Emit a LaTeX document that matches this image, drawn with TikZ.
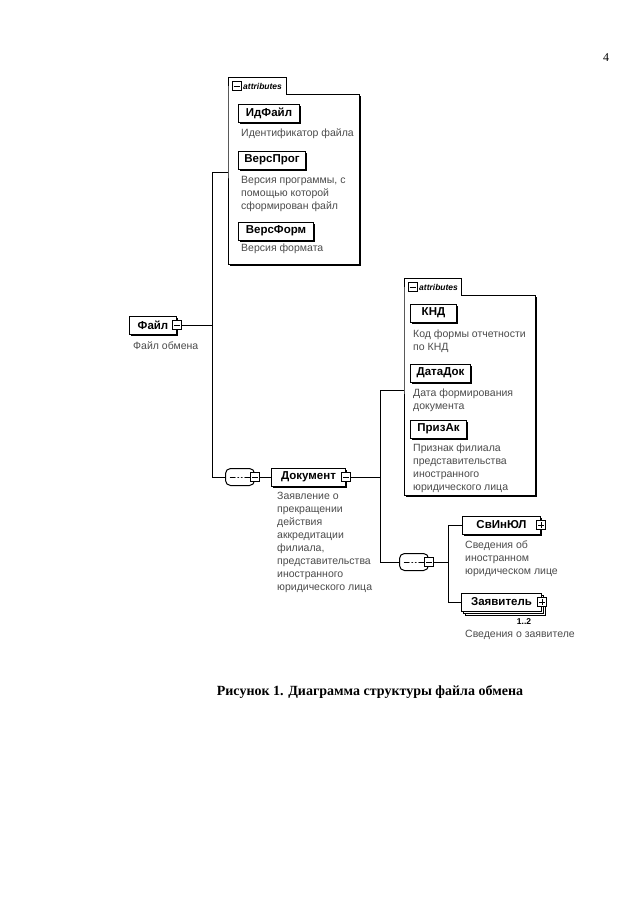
\documentclass[tikz,border=0pt]{standalone}
\usepackage{fontspec}
\setmainfont{Liberation Serif}
\setsansfont{Liberation Sans}
\usetikzlibrary{shadows,calc}
\tikzset{
  elembase/.style={draw, line width=1pt, fill=white, anchor=west, inner xsep=3pt, inner ysep=0pt,
    minimum height=18pt, font=\sffamily\bfseries\fontsize{11.5}{12}\selectfont},
  elem/.style={elembase, drop shadow={shadow xshift=1.6pt, shadow yshift=-1.6pt, fill=black, opacity=1}},
  multielem/.style={elembase, double copy shadow={shadow xshift=2pt, shadow yshift=-2pt}},
  desc/.style={anchor=north west, align=left, inner sep=0pt, text=black!70,
    font=\sffamily\fontsize{10.5}{13}\selectfont},
  sym/.style={draw, fill=white, line width=0.7pt, minimum size=9pt, inner sep=0pt},
  minussym/.style={sym, path picture={
    \draw[line width=0.7pt] ($(path picture bounding box.west)+(1.5pt,0)$) -- ($(path picture bounding box.east)+(-1.5pt,0)$);}},
  plussym/.style={sym, path picture={
    \draw[line width=0.7pt] ($(path picture bounding box.west)+(1.5pt,0)$) -- ($(path picture bounding box.east)+(-1.5pt,0)$);
    \draw[line width=0.7pt] ($(path picture bounding box.north)+(0,-1.5pt)$) -- ($(path picture bounding box.south)+(0,1.5pt)$);}},
  seqbox/.style={draw, line width=1pt, fill=white, rounded corners=5pt, minimum width=29pt, minimum height=17pt,
    inner sep=0pt, path picture={
    \draw[line width=1pt] ($(path picture bounding box.west)+(4pt,0)$) -- ($(path picture bounding box.east)+(-4pt,0)$);
    \fill ($(path picture bounding box.center)+(-3.5pt,0)$) circle (1.4pt);
    \fill (path picture bounding box.center) circle (1.4pt);
    \fill ($(path picture bounding box.center)+(3.5pt,0)$) circle (1.4pt);}},
  attrbox/.style={anchor=north west, inner sep=0pt, fill=white,
    drop shadow={shadow xshift=1.4pt, shadow yshift=-1.4pt, fill=black, opacity=1}},
  attrtab/.style={anchor=south west, inner sep=0pt, minimum height=16pt},
  tabtext/.style={anchor=west, inner sep=0pt, font=\sffamily\bfseries\itshape\fontsize{8.5}{9}\selectfont},
  frame/.style={line width=0.9pt},
  conn/.style={line width=0.8pt},
  caption/.style={font=\rmfamily\bfseries\fontsize{14}{16}\selectfont},
  pagenum/.style={font=\rmfamily\fontsize{12}{14}\selectfont},
  card/.style={font=\sffamily\bfseries\fontsize{8.5}{9}\selectfont, inner sep=0pt}
}
\begin{document}
\begin{tikzpicture}[x=1pt,y=-1pt]
\useasboundingbox[fill=white] (0,0) rectangle (640,905);

\node[pagenum] (pg) at (606,58) {4};

% ---------- top attributes box ----------
\node[attrbox, minimum width=131pt, minimum height=170pt] (attrA) at (228,94) {};
\node[attrtab, minimum width=58pt] (tabA) at (attrA.north west) {};
\draw[frame] (tabA.south west) -- (tabA.north west) -- (tabA.north east) -- (tabA.south east)
  -- (attrA.north east) -- (attrA.south east) -- (attrA.south west) -- cycle;
\node[minussym] (tabAs) at (236.5,86) {};
\node[tabtext] (tabAt) at (243,86) {attributes};

\node[elem, minimum width=61pt] (idf) at (238,113) {ИдФайл};
\node[desc] (idfd) at (241,129) {Идентификатор файла};
\node[elem, minimum width=67pt] (vp) at (238,160) {ВерсПрог};
\node[desc] (vpd) at (241,176) {Версия программы, с\\помощью которой\\сформирован файл};
\node[elem, minimum width=75pt] (vf) at (238,231) {ВерсФорм};
\node[desc] (vfd) at (241,244) {Версия формата};

% ---------- root element ----------
\node[elem, minimum width=47pt] (file) at (129,325) {Файл\hspace{5pt}};
\node[minussym] (fileS) at (file.east) {};
\node[desc] (filed) at (133,342) {Файл обмена};

% bus A
\coordinate (busAtop) at (212,172);
\coordinate (busAbot) at (212,477);
\draw[conn] (fileS.east) -- (fileS.east -| busAtop);
\draw[conn] (attrA.west |- busAtop) -- (busAtop) -- (busAbot);

% ---------- sequence 1 ----------
\node[seqbox] (seq1) at (240,477) {};
\node[minussym] (seq1S) at (seq1.east) {};
\draw[conn] (busAbot) -- (seq1.west);

\node[elem, minimum width=74pt] (doc) at (271,477) {Документ\hspace{5pt}};
\node[minussym] (docS) at (doc.east) {};
\draw[conn] (seq1S.east) -- (doc.west);
\node[desc] (docd) at (277,492) {Заявление о\\прекращении\\действия\\аккредитации\\филиала,\\представительства\\иностранного\\юридического лица};

% bus B
\coordinate (busBtop) at (380,390);
\coordinate (busBbot) at (380,562);
\draw[conn] (docS.east) -- (docS.east -| busBtop);

% ---------- second attributes box ----------
\node[attrbox, minimum width=131pt, minimum height=200pt] (attrB) at (404,295) {};
\node[attrtab, minimum width=57pt] (tabB) at (attrB.north west) {};
\draw[frame] (tabB.south west) -- (tabB.north west) -- (tabB.north east) -- (tabB.south east)
  -- (attrB.north east) -- (attrB.south east) -- (attrB.south west) -- cycle;
\node[minussym] (tabBs) at (412.5,287) {};
\node[tabtext] (tabBt) at (419,287) {attributes};
\draw[conn] (attrB.west |- busBtop) -- (busBtop) -- (busBbot);

\node[elem, minimum width=46pt] (knd) at (410,313) {КНД};
\node[desc] (kndd) at (413,330) {Код формы отчетности\\по КНД};
\node[elem, minimum width=60pt] (dd) at (410,373) {ДатаДок};
\node[desc] (ddd) at (413,389) {Дата формирования\\документа};
\node[elem, minimum width=56pt] (pa) at (410,429) {ПризАк};
\node[desc] (pad) at (413,444) {Признак филиала\\представительства\\иностранного\\юридического лица};

% ---------- sequence 2 ----------
\node[seqbox] (seq2) at (414,562) {};
\node[minussym] (seq2S) at (seq2.east) {};
\draw[conn] (busBbot) -- (seq2.west);

\coordinate (busCtop) at (448,525);
\coordinate (busCbot) at (448,602);
\draw[conn] (seq2S.east) -- (seq2S.east -| busCtop);

\node[elem, minimum width=78pt] (svin) at (462,525) {СвИнЮЛ\hspace{5pt}};
\node[plussym] (svinS) at (svin.east) {};
\node[desc] (svind) at (465,541) {Сведения об\\иностранном\\юридическом лице};

\node[multielem, minimum width=80pt] (zay) at (461,602) {Заявитель\hspace{5pt}};
\node[plussym] (zayS) at (zay.east) {};
\node[card] (zayc) at (524,622) {1..2};
\node[desc] (zayd) at (465,630) {Сведения о заявителе};

\draw[conn] (svin.west) -- (busCtop) -- (busCbot) -- (zay.west);

% ---------- caption ----------
\node[caption] (cap) at (370,692) {Рисунок 1. Диаграмма структуры файла обмена};
\end{tikzpicture}
\end{document}
